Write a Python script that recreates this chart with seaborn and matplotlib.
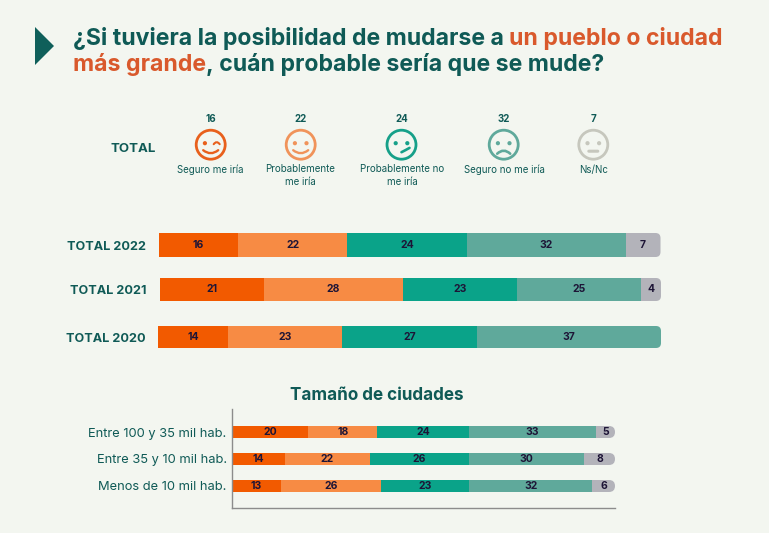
import matplotlib
matplotlib.use("Agg")
import matplotlib.pyplot as plt
import seaborn as sns
from matplotlib.patches import Circle, FancyBboxPatch, PathPatch, Polygon
from matplotlib.path import Path
from matplotlib.transforms import IdentityTransform

W, H = 769, 533
BG = "#f3f6f0"
TEAL = "#0f5a56"
TITLE_ORANGE = "#d9592c"
INK = "#1d1436"
AXIS_GREY = "#8c8c8c"
FONT = "Inter"

# data
responses = ["Seguro me iría", "Probablemente\nme iría", "Probablemente no\nme iría", "Seguro no me iría", "Ns/Nc"]
resp_colors = ["#f25a00", "#f78b44", "#0aa389", "#5fa99b", "#b3b3ba"]
face_colors = ["#e8601c", "#f0935a", "#16a089", "#5fa99b", "#c6c7bd"]
total_now = [16, 22, 24, 32, 7]

year_labels = ["TOTAL 2022", "TOTAL 2021", "TOTAL 2020"]
year_values = [
    [16, 22, 24, 32, 7],
    [21, 28, 23, 25, 4],
    [14, 23, 27, 37, 0],
]

city_labels = ["Entre 100 y 35 mil hab.", "Entre 35 y 10 mil hab.", "Menos de 10 mil hab."]
city_values = [
    [20, 18, 24, 33, 5],
    [14, 22, 26, 30, 8],
    [13, 26, 23, 32, 6],
]

sns.set_theme(style="white", rc={"figure.facecolor": BG, "axes.facecolor": "none", "savefig.facecolor": BG})
plt.rcParams["font.family"] = [FONT, "DejaVu Sans"]

fig = plt.figure(figsize=(W / 100, H / 100), dpi=100)


def px_axes(x0, y0, x1, y1):
    return fig.add_axes([x0 / W, 1 - y1 / H, (x1 - x0) / W, (y1 - y0) / H])


def stacked(ax, labels, rows, bar_width, ylim, radius, label_size):
    # one barplot call per response, moved along with left=
    left = [0] * len(labels)
    for j, color in enumerate(resp_colors):
        vals = [r[j] for r in rows]
        n_before = len(ax.containers)
        sns.barplot(x=vals, y=labels, color=color, saturation=1, width=bar_width,
                    left=left, ax=ax, linewidth=0)
        cont = ax.containers[n_before]
        ax.bar_label(cont, labels=[str(v) if v else "" for v in vals], label_type="center",
                     fontsize=label_size, fontweight="bold", color=INK)
        left = [a + b for a, b in zip(left, vals)]
    ax.set_xlim(0, max(left))
    ax.set_ylim(*ylim)
    ax.set_xlabel("")
    ax.set_ylabel("")
    ax.set_xticks([])
    ax.patch.set_alpha(0)
    fig.canvas.draw()
    # rounded right end on the last segment of each row
    for i, row in enumerate(rows):
        last = max(j for j, v in enumerate(row) if v)
        bar = ax.containers[last][i]
        box = bar.get_window_extent()
        clip = FancyBboxPatch((box.x0 - 3 * radius, box.y0), box.width + 3 * radius, box.height,
                              boxstyle=f"round,pad=0,rounding_size={radius}", transform=IdentityTransform())
        bar.set_clip_path(clip)


# overlay in pixel coords for title, faces
bg = fig.add_axes([0, 0, 1, 1])
bg.set_xlim(0, W)
bg.set_ylim(H, 0)
bg.axis("off")

bg.add_patch(Polygon([(35, 27), (54, 46), (35, 65)], closed=True, color="#0f5f5a", lw=0))


def text_run(x, y, parts, size):
    for txt, color in parts:
        t = bg.text(x, y, txt, color=color, fontsize=size, fontweight="bold", va="center_baseline", ha="left")
        fig.canvas.draw()
        x = t.get_window_extent().x1
    return x


TITLE_SIZE = 16.6
text_run(73, 36, [("¿Si tuviera la posibilidad de mudarse a ", TEAL), ("un pueblo o ciudad", TITLE_ORANGE)], TITLE_SIZE)
text_run(73, 62, [("más grande", TITLE_ORANGE), (", cuán probable sería que se mude?", TEAL)], TITLE_SIZE)

bg.text(133, 149.5, "TOTAL", color=TEAL, fontsize=9.5, fontweight="bold", ha="center", va="center")

face_x = [210.7, 300.7, 401.5, 503.7, 593.3]
face_y = 144.7
label_x = [210.5, 300.5, 402.5, 504.5, 593.5]


def curve(cx, cy, p0, ctrl, p1, color, lw):
    pts = [(cx + p0[0], cy + p0[1]), (cx + ctrl[0], cy + ctrl[1]), (cx + p1[0], cy + p1[1])]
    bg.add_patch(PathPatch(Path(pts, [Path.MOVETO, Path.CURVE3, Path.CURVE3]), fill=False,
                           edgecolor=color, lw=lw, capstyle="round"))


for i, (cx, color) in enumerate(zip(face_x, face_colors)):
    bg.add_patch(Circle((cx, face_y), 14.5, fill=False, edgecolor=color, lw=2.0))
    bg.add_patch(Circle((cx - 5.8, face_y - 1.5), 2.1, color=color, lw=0))
    if i == 0:
        curve(cx, face_y, (3, -0.5), (6, -4.5), (9, -0.5), color, 1.5)
    else:
        bg.add_patch(Circle((cx + 5.8, face_y - 1.5), 2.1, color=color, lw=0))
    if i in (0, 1):
        curve(cx, face_y, (-7.5, 5.5), (0, 11.5), (7.5, 5.5), color, 1.7)
    elif i == 2:
        curve(cx, face_y, (0, 7.5), (4, 5.5), (8, 3.2), color, 1.9)
    elif i == 3:
        curve(cx, face_y, (-6.5, 9), (0, 3), (6.5, 9), color, 1.9)
    else:
        curve(cx, face_y, (-4.5, 6.5), (0, 6.5), (4.5, 6.5), color, 2.2)
    bg.text(cx, 119.3, str(total_now[i]), color=TEAL, fontsize=7, fontweight="bold", ha="center", va="center")
    text_y = 175.7 if "\n" in responses[i] else 170
    bg.text(label_x[i], text_y, responses[i], color=TEAL, fontsize=7, ha="center", va="center", linespacing=1.35)

bg.text(377, 395, "Tamaño de ciudades", color=TEAL, fontsize=12.3, fontweight="bold", ha="center", va="center")

# yearly rows, each has its own small axes since the spacing isn't even
year_boxes = [(158.5, 233, 660.5, 257), (160, 278, 661, 301), (158, 326, 661, 348)]
for label, vals, box in zip(year_labels, year_values, year_boxes):
    ax = px_axes(*box)
    stacked(ax, [label], [vals], 1.0, (0.5, -0.5), 5, 7.5)
    sns.despine(ax=ax, left=True, bottom=True)
    ax.tick_params(axis="y", length=0, pad=(box[0] - 146) * 0.72)
    for t in ax.get_yticklabels():
        t.set_fontsize(9.1)
        t.set_fontweight("bold")
        t.set_color(TEAL)

# city rows
ax = px_axes(231.5, 409, 615, 508)
stacked(ax, city_labels, city_values, 0.444, (2.815, -0.852), 6, 7.5)
sns.despine(ax=ax)
for side in ("left", "bottom"):
    ax.spines[side].set_color(AXIS_GREY)
    ax.spines[side].set_linewidth(1)
ax.tick_params(axis="y", length=0, pad=3.5)
for t in ax.get_yticklabels():
    t.set_fontsize(9.25)
    t.set_color(TEAL)

fig.savefig("out.png", dpi=100)
